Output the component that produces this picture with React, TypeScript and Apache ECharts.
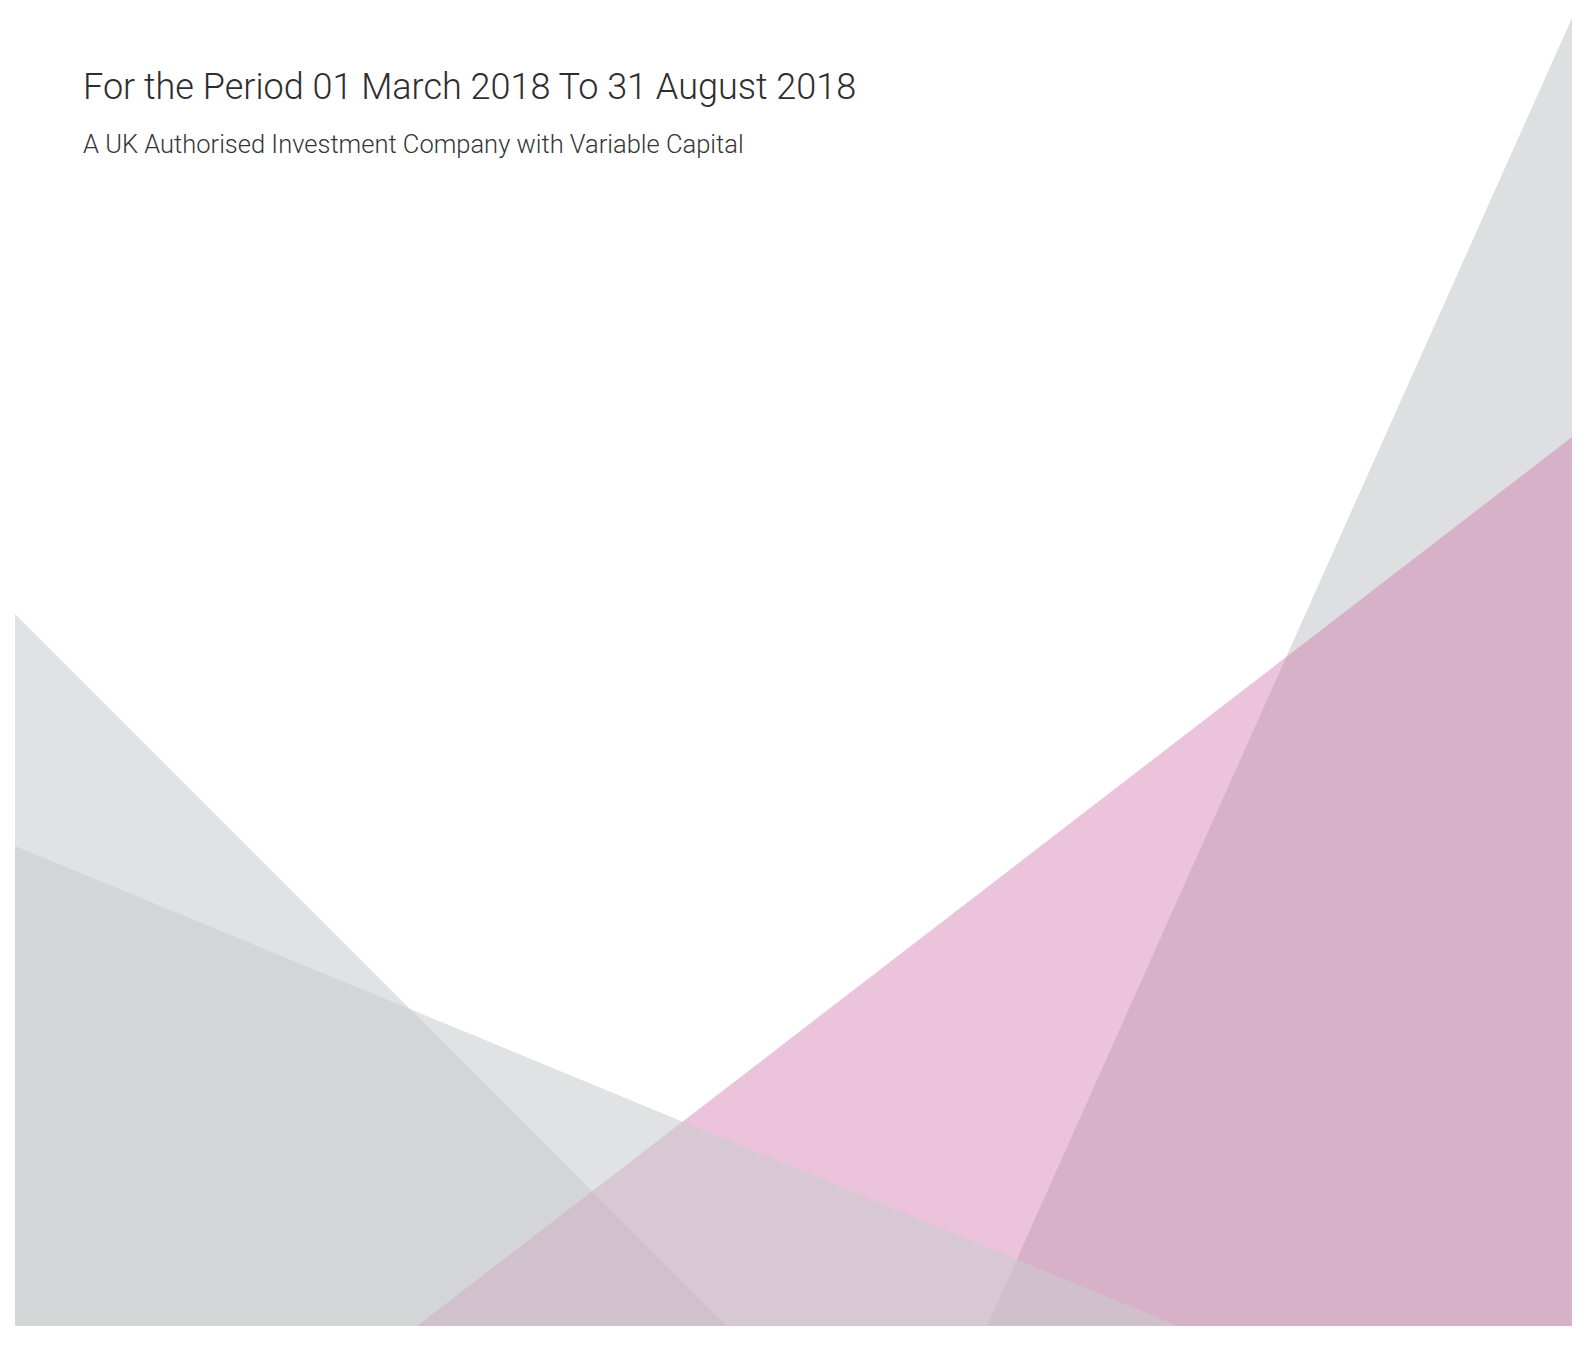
import React, { useEffect, useRef } from "react";
import * as echarts from "echarts";

const W = 1588;
const H = 1348;

const TITLE = "For the Period 01 March 2018 To 31 August 2018";
const SUBTITLE = "A UK Authorised Investment Company with Variable Capital";

// polygon vertices in page coordinates (drawn in this order)
const shapeD: number[][] = [[1572, 18], [1572, 1326], [987, 1326]];
const shapeA: number[][] = [[15, 614], [15, 1326], [727, 1326]];
const shapeC: number[][] = [[417, 1326], [1572, 437], [1572, 1326]];
const shapeB: number[][] = [[15, 846], [15, 1326], [1178, 1326]];

const SHAPES = [shapeD, shapeA, shapeC, shapeB];
const FILLS = [
  "rgba(190,192,195,0.51)",
  "rgba(202,204,206,0.57)",
  "rgba(204,108,164,0.40)",
  "rgba(202,204,206,0.57)",
];

export default function App() {
  const ref = useRef<HTMLDivElement>(null);
  useEffect(() => {
    document.body.style.margin = "0";
    const chart = echarts.init(ref.current!, undefined, { renderer: "svg" });
    chart.setOption({
      animation: false,
      backgroundColor: "#ffffff",
      grid: { left: 0, right: 0, top: 0, bottom: 0 },
      xAxis: { type: "value", min: 0, max: W, show: false },
      yAxis: { type: "value", min: 0, max: H, inverse: true, show: false },
      series: [
        {
          type: "custom",
          silent: true,
          data: SHAPES.map((_, i) => [i]),
          renderItem: (params: any, api: any) => {
            const pts = SHAPES[params.dataIndex].map((p) => api.coord(p));
            return {
              type: "polygon",
              shape: { points: pts },
              style: { fill: FILLS[params.dataIndex] },
            };
          },
        },
      ],
      graphic: [
        {
          type: "text",
          left: 83,
          top: 69,
          style: {
            text: TITLE,
            fill: "#2e2e2e",
            font: "300 36px Roboto",
          },
        },
        {
          type: "text",
          left: 83,
          top: 131,
          style: {
            text: SUBTITLE,
            fill: "#363636",
            font: "300 25.5px Roboto",
          },
        },
      ],
    });
    return () => chart.dispose();
  }, []);
  return <div ref={ref} style={{ width: W, height: H }} />;
}
